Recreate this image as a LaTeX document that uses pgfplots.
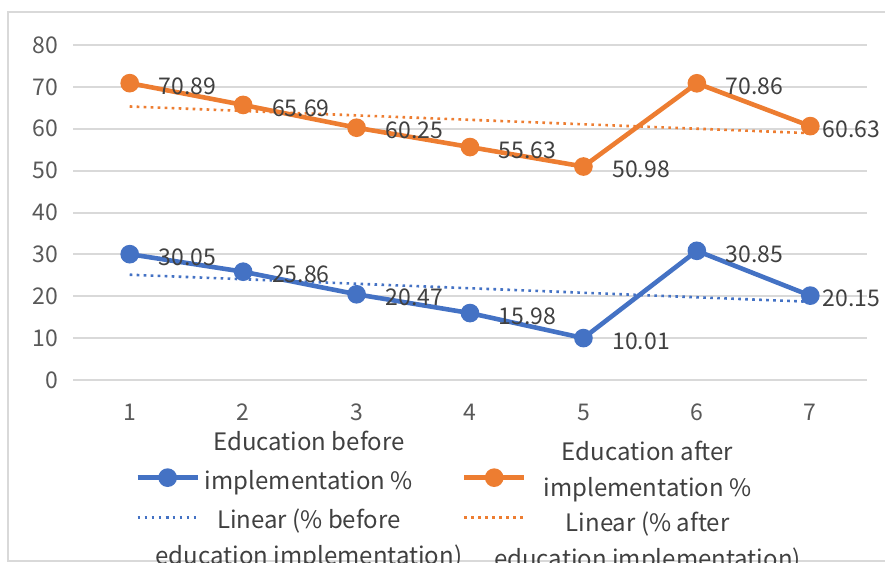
\documentclass[border=0pt]{standalone}
\usepackage{pgfplots}
\pgfplotsset{compat=1.18}
\usepackage{fontspec}
\setmainfont{Noto Sans CJK SC}
\definecolor{xlblue}{HTML}{4472C4}
\definecolor{xlorange}{HTML}{ED7D31}
\definecolor{xlgrid}{HTML}{D9D9D9}
\definecolor{xltick}{HTML}{595959}
\definecolor{xllabel}{HTML}{404040}
\newcommand{\lgfont}{\fontsize{12}{18}\selectfont}
% two-line legend text, first baseline lifted by #1, box kept at a fixed size
\newcommand{\lgtext}[3]{\raisebox{#1}[6pt][6pt]{\parbox[t]{#2}{\centering #3}}}

\begin{document}
\begin{tikzpicture}[x=1pt,y=1pt]
\path[use as bounding box] (0,0) rectangle (442.5,281.5);
% chart frame
\draw[xlgrid, line width=0.8pt] (460,1) -- (4,1) -- (4,275.5) -- (460,275.5);
\begin{axis}[
  at={(36.5pt,91.5pt)}, anchor=south west,
  scale only axis, width=397pt, height=167.5pt,
  xmin=0.5, xmax=7.5, ymin=0, ymax=80,
  xtick={1,...,7}, ytick={0,10,...,80},
  axis line style={draw=none},
  major tick length=0pt,
  ymajorgrids, major grid style={xlgrid, line width=1pt},
  /pgf/number format/assume math mode=true,
  ticklabel style={font=\fontsize{11.5}{14}\selectfont, text=xltick},
  xticklabel style={yshift=-8.5pt},
  yticklabel style={xshift=-4pt},
  clip=false,
  legend columns=2,
  legend style={at={(0.078,-0.256)}, anchor=north west, draw=none, fill=none,
    inner sep=0pt, font=\lgfont, text=xllabel, row sep=8.5pt,
    /tikz/every even column/.append style={column sep=22pt}},
  legend image code/.code={
    \draw[mark repeat=2, mark phase=2, #1] plot coordinates {(0pt,0pt) (15pt,0pt) (30pt,0pt)};},
  series/.style={color=#1, line width=2.3pt, mark=*, mark size=3.5pt,
    mark options={solid},
    nodes near coords,
    visualization depends on={rawx \as \rx},
    every node near coord/.append style={anchor=west, text=xllabel,
      font=\fontsize{11.5}{14}\selectfont,
      xshift={\rx>6.5 ? 1.7pt : 10pt}, yshift=-1.5pt},
    /pgf/number format/.cd, fixed, fixed zerofill, precision=2},
  trend/.style={color=#1, line width=1.3pt, dash pattern=on 1.3pt off 2.2pt},
]
% education before implementation (%)
\addplot[series=xlblue] coordinates {
  (1,30.05) (2,25.86) (3,20.47) (4,15.98) (5,10.01) (6,30.85) (7,20.15)};
\addlegendentry{\lgtext{16pt}{105pt}{Education before\\[1.5pt]implementation \%}}
% education after implementation (%)
\addplot[series=xlorange] coordinates {
  (1,70.89) (2,65.69) (3,60.25) (4,55.63) (5,50.98) (6,70.86) (7,60.63)};
\addlegendentry{\lgtext{11pt}{117pt}{Education after\\implementation \%}}
% least-squares trend lines
\addplot[trend=xlblue] coordinates {(1,25.14) (7,18.68)};
\addlegendentry{\lgtext{-3pt}{105pt}{Linear (\% before\\\makebox[0pt]{education implementation)}}}
\addplot[trend=xlorange] coordinates {(1,65.32) (7,58.95)};
\addlegendentry{\lgtext{-4.5pt}{117pt}{Linear (\% after\\\makebox[0pt]{education implementation)}}}
\end{axis}
\end{tikzpicture}
\end{document}
